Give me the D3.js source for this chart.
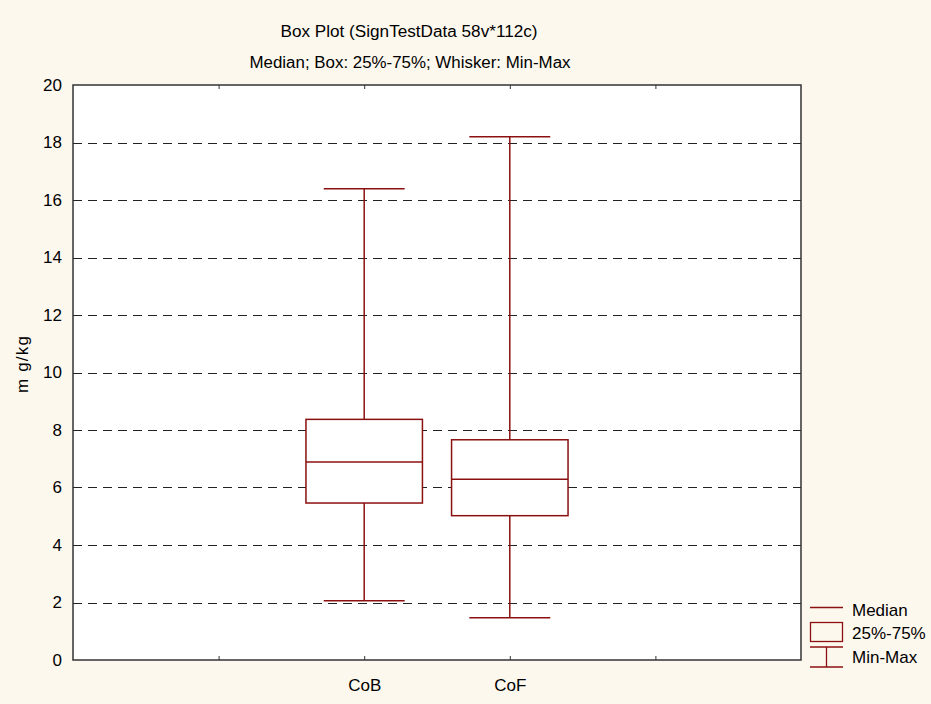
<!DOCTYPE html>
<html>
<head>
<meta charset="utf-8">
<script src="https://cdn.jsdelivr.net/npm/d3@7"></script>
<style>
  html, body { margin: 0; padding: 0; background: #fdf8ee; }
  svg { display: block; }
  text { font-family: Arial, "Liberation Sans", sans-serif; fill: #000; }
</style>
</head>
<body>
<script>
// ---- data ----
const categories = ["CoB", "CoF"];
const catPositions = [2, 3];
const minValues = [2.06, 1.47];
const q1Values = [5.46, 5.02];
const medianValues = [6.89, 6.29];
const q3Values = [8.37, 7.66];
const maxValues = [16.39, 18.2];
const yTicks = [0, 2, 4, 6, 8, 10, 12, 14, 16, 18, 20];
const gridValues = [2, 4, 6, 8, 10, 12, 14, 16, 18];
const xTickPositions = [1, 2, 3, 4];
const title = "Box Plot (SignTestData 58v*112c)";
const subtitle = "Median; Box: 25%-75%; Whisker: Min-Max";
const yLabel = "m g/kg";
const legendLabels = ["Median", "25%-75%", "Min-Max"];

const W = 931, H = 704;
const red = "#8b1010";
const L = 73, R = 801, T = 85, B = 660;

const svg = d3.select("body").append("svg").attr("width", W).attr("height", H);
svg.append("rect").attr("width", W).attr("height", H).attr("fill", "#fdf8ee");

const x = d3.scaleLinear().domain([0, 5]).range([L, R]);
const y = d3.scaleLinear().domain([0, 20]).range([B, T]);

// plot area
svg.append("rect").attr("x", L).attr("y", T).attr("width", R - L).attr("height", B - T).attr("fill", "#fff");

// gridlines
svg.append("g").selectAll("line").data(gridValues).join("line")
  .attr("x1", L).attr("x2", R)
  .attr("y1", d => Math.round(y(d)) + 0.5).attr("y2", d => Math.round(y(d)) + 0.5)
  .attr("stroke", "#222").attr("stroke-width", 1).attr("stroke-dasharray", "9,6");

// y axis labels
const yAxis = d3.axisLeft(y).tickValues(yTicks).tickSize(0).tickPadding(11).tickFormat(d3.format("d"));
const gy = svg.append("g").attr("transform", `translate(${L},0)`).call(yAxis);
gy.select(".domain").remove();
gy.selectAll("text").style("font-size", "17px").style("font-family", "Arial, 'Liberation Sans', sans-serif");

// x axis bottom labels + ticks
const xAxisB = d3.axisBottom(x).tickValues(xTickPositions).tickSizeInner(-4).tickSizeOuter(0)
  .tickFormat(d => { const i = catPositions.indexOf(d); return i >= 0 ? categories[i] : ""; })
  .tickPadding(19);
const gxb = svg.append("g").attr("transform", `translate(0,${B})`).call(xAxisB);
gxb.select(".domain").remove();
gxb.selectAll("line").attr("stroke", "#333");
gxb.selectAll("text").style("font-size", "17px").style("font-family", "Arial, 'Liberation Sans', sans-serif");

const xAxisT = d3.axisTop(x).tickValues(xTickPositions).tickSizeInner(-4).tickSizeOuter(0).tickFormat("");
const gxt = svg.append("g").attr("transform", `translate(0,${T})`).call(xAxisT);
gxt.select(".domain").remove();
gxt.selectAll("line").attr("stroke", "#333");

// frame
svg.append("rect").attr("x", L).attr("y", T).attr("width", R - L).attr("height", B - T)
  .attr("fill", "none").attr("stroke", "#333").attr("stroke-width", 1.5);

// boxes
const boxW = 0.8, capW = 0.556;
const g = svg.append("g").attr("stroke", red).attr("stroke-width", 1.5).attr("fill", "none");
categories.forEach((c, i) => {
  const cx = x(catPositions[i]);
  const half = (x(boxW) - x(0)) / 2;
  const capHalf = (x(capW) - x(0)) / 2;
  // whiskers
  g.append("line").attr("x1", cx).attr("x2", cx).attr("y1", y(maxValues[i])).attr("y2", y(q3Values[i]));
  g.append("line").attr("x1", cx).attr("x2", cx).attr("y1", y(q1Values[i])).attr("y2", y(minValues[i]));
  g.append("line").attr("x1", cx - capHalf).attr("x2", cx + capHalf).attr("y1", y(maxValues[i])).attr("y2", y(maxValues[i]));
  g.append("line").attr("x1", cx - capHalf).attr("x2", cx + capHalf).attr("y1", y(minValues[i])).attr("y2", y(minValues[i]));
  // box
  g.append("rect").attr("x", cx - half).attr("y", y(q3Values[i]))
    .attr("width", 2 * half).attr("height", y(q1Values[i]) - y(q3Values[i])).attr("fill", "#fff");
  g.append("line").attr("x1", cx - half).attr("x2", cx + half).attr("y1", y(medianValues[i])).attr("y2", y(medianValues[i]));
});

// titles
svg.append("text").attr("x", 409).attr("y", 37).attr("text-anchor", "middle")
  .style("font-size", "16px").attr("textLength", 257).attr("lengthAdjust", "spacingAndGlyphs").text(title);
svg.append("text").attr("x", 410).attr("y", 68).attr("text-anchor", "middle")
  .style("font-size", "16px").attr("textLength", 321).attr("lengthAdjust", "spacingAndGlyphs").text(subtitle);

// y label
svg.append("text").attr("transform", "translate(28,364) rotate(-90)").attr("text-anchor", "middle")
  .style("font-size", "17px").style("letter-spacing", "1.2px").text(yLabel);

// legend
const lg = svg.append("g").attr("stroke", red).attr("stroke-width", 1.3).attr("fill", "none");
lg.append("line").attr("x1", 810).attr("x2", 843).attr("y1", 607.5).attr("y2", 607.5);
lg.append("rect").attr("x", 810.5).attr("y", 622.5).attr("width", 32).attr("height", 19);
lg.append("line").attr("x1", 810).attr("x2", 843).attr("y1", 647).attr("y2", 647);
lg.append("line").attr("x1", 810).attr("x2", 843).attr("y1", 667).attr("y2", 667);
lg.append("line").attr("x1", 826.5).attr("x2", 826.5).attr("y1", 647).attr("y2", 667);
const legendY = [616, 639, 663];
svg.append("g").selectAll("text").data(legendLabels).join("text")
  .attr("x", 852).attr("y", (d, i) => legendY[i]).style("font-size", "17px").text(d => d);
</script>
</body>
</html>
